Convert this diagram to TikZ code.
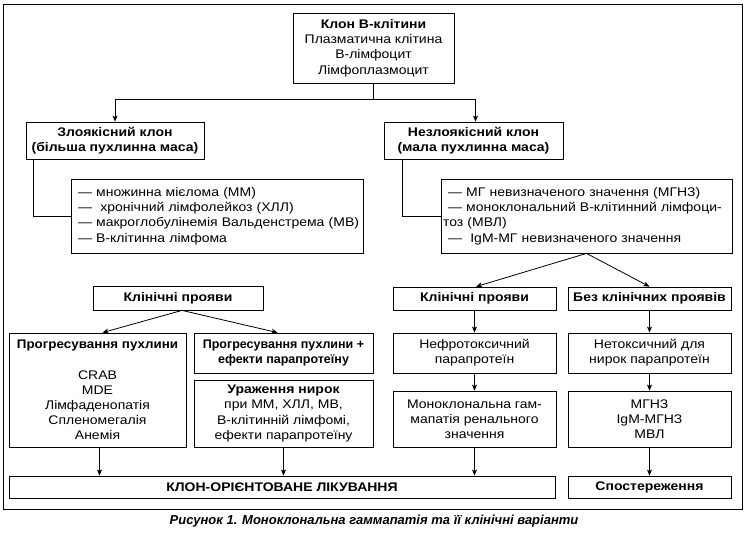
\documentclass[tikz,border=0pt]{standalone}
\usepackage{fontspec}
\setmainfont{Liberation Sans}[UprightFeatures={FakeStretch=1.12},BoldFeatures={FakeStretch=1.12}]
\newfontfamily\capfont{Liberation Sans}
\newfontfamily\narrowfont{Liberation Sans}[FakeStretch=1.0]
\newfontfamily\midfont{Liberation Sans}[FakeStretch=1.07]
\usetikzlibrary{arrows.meta}
\newcommand\fs{\fontsize{12.5}{15.2}\selectfont}
\newcommand\bx[6]{\node[#6,minimum width={(#4-#2)*1pt},minimum height={(#5-#3)*1pt}] (#1) at ({(#2+#4)/2},{(#3+#5)/2})}
\begin{document}
\begin{tikzpicture}[x=1pt,y=-1pt,
  box/.style={draw, line width=0.8pt, inner sep=0pt, align=center, font=\fs},
  bbox/.style={box, font=\fs\bfseries},
  lst/.style={box, align=left, inner xsep=#1},
  ln/.style={line width=0.8pt},
  arr/.style={line width=0.8pt, -{Stealth[length=6pt,width=5pt,inset=1.5pt]}}]
\useasboundingbox (0,0) rectangle (747,535);
\draw[ln] (3,4) rectangle (742,509);
\bx{top}{293}{13}{454}{83}{box}{\textbf{Клон В-клітини}\\Плазматична клітина\\В-лімфоцит\\Лімфоплазмоцит};
\bx{mal}{26}{122}{204}{159}{bbox}{Злоякісний клон\\(більша пухлинна маса)};
\bx{nonmal}{384}{122}{563}{159}{bbox}{Незлоякісний клон\\(мала пухлинна маса)};
\bx{listA}{71}{179}{363}{253}{lst=7pt,text width=278pt}{\mbox{— множинна мієлома (ММ)}\\\mbox{— \ хронічний лімфолейкоз (ХЛЛ)}\\\mbox{— макроглобулінемія Вальденстрема (МВ)}\\\mbox{— В-клітинна лімфома}};
\bx{listB}{441}{179}{732}{253}{lst=2pt,text width=287pt}{\hspace*{5pt}\mbox{— МГ невизначеного значення (МГНЗ)}\\\hspace*{5pt}\mbox{— моноклональний В-клітинний лімфоци-}\\\mbox{тоз (МВЛ)}\\\hspace*{5pt}\mbox{— \ IgM-МГ невизначеного значення}};
\bx{clinA}{93}{286}{263}{310}{bbox}{Клінічні прояви};
\bx{prog}{9}{333}{186}{447}{box}{{\midfont\bfseries Прогресування пухлини}\\[15.2pt]CRAB\\MDE\\Лімфаденопатія\\Спленомегалія\\Анемія};
\bx{progpar}{194}{333}{373}{373}{bbox}{\narrowfont\bfseries Прогресування пухлини +\\\narrowfont\bfseries ефекти парапротеїну};
\bx{kidney}{194}{380}{373}{447}{box}{\textbf{Ураження нирок}\\при ММ, ХЛЛ, МВ,\\В-клітинній лімфомі,\\ефекти парапротеїну};
\bx{treat}{9}{476}{555}{498}{bbox}{КЛОН-ОРІЄНТОВАНЕ ЛІКУВАННЯ};
\bx{clinB}{393}{287}{556}{310}{bbox}{Клінічні прояви};
\bx{noclin}{568}{287}{731}{310}{bbox}{Без клінічних проявів};
\bx{nephro}{393}{333}{556}{373}{box}{Нефротоксичний\\парапротеїн};
\bx{nontox}{568}{333}{731}{373}{box}{Нетоксичний для\\нирок парапротеїн};
\bx{mgrs}{393}{391}{556}{447}{box}{Моноклональна гам-\\мапатія ренального\\значення};
\bx{mgus}{568}{391}{731}{447}{box}{МГНЗ\\IgM-МГНЗ\\МВЛ};
\bx{obs}{568}{476}{731}{498}{bbox}{Спостереження};
\node[font=\capfont\fontsize{13}{15}\selectfont\bfseries\itshape] (cap) at (374,521) {Рисунок 1. Моноклональна гаммапатія та її клінічні варіанти};
% connectors
\coordinate (br) at (373.5,99);
\draw[ln] (top.south) -- (br);
\draw[arr] (br) -| (mal.north);
\draw[arr] (br) -| ([xshift=2pt]nonmal.north);
\draw[ln] ([xshift=8pt]mal.south west) |- (listA.west);
\draw[ln] ([xshift=19pt]nonmal.south west) |- (listB.west);
\draw[arr] (listB.south) -- ([xshift=1.5pt]clinB.north);
\draw[arr] (listB.south) -- (noclin.north);
\draw[arr] ([xshift=4pt]clinA.south) -- ([xshift=5pt]prog.north);
\draw[arr] ([xshift=4pt]clinA.south) -- ([xshift=-6pt]progpar.north);
\draw[arr] ([xshift=2pt]prog.south) -- ([xshift=2pt]prog.south |- treat.north);
\draw[arr] (kidney.south) -- (kidney.south |- treat.north);
\draw[arr] (clinB.south) -- (nephro.north);
\draw[arr] (nephro.south) -- (mgrs.north);
\draw[arr] (mgrs.south) -- (mgrs.south |- treat.north);
\draw[arr] (noclin.south) -- (nontox.north);
\draw[arr] (nontox.south) -- (mgus.north);
\draw[arr] (mgus.south) -- (obs.north);
\end{tikzpicture}
\end{document}
